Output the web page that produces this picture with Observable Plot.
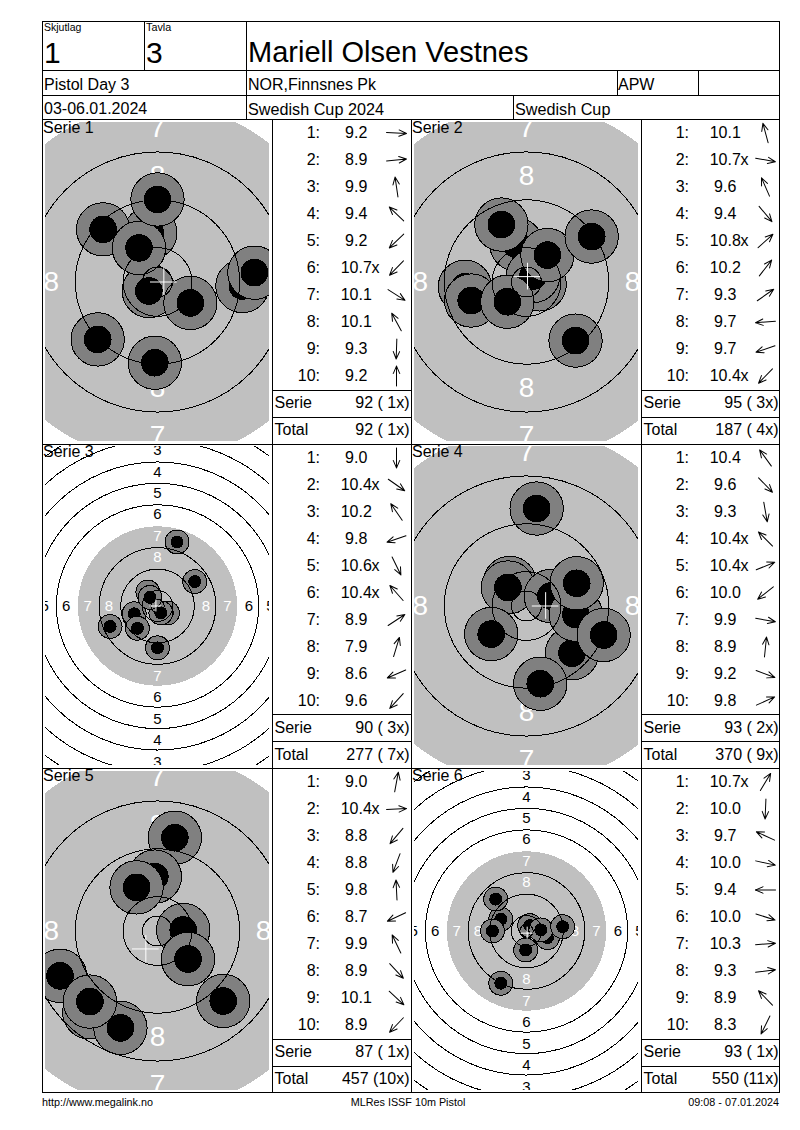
<!DOCTYPE html>
<html>
<head>
<meta charset="utf-8">
<script src="https://cdn.jsdelivr.net/npm/d3@7"></script>
<script src="https://cdn.jsdelivr.net/npm/@observablehq/plot@0.6"></script>
<style>
  html, body { margin: 0; padding: 0; background: #fff; }
  #page { position: relative; width: 800px; height: 1130px; overflow: hidden;
          font-family: "Liberation Sans", Arial, sans-serif; color: #000; }
  #page svg { position: absolute; background: transparent; }
  .t { position: absolute; white-space: pre; line-height: 1; }
  .l { position: absolute; background: #000; }
</style>
</head>
<body>
<div id="page"></div>
<script>
// ---------- Header text ----------
const shooter = "Mariell Olsen Vestnes";
const relay = "1";
const lane = "3";
const eventName = "Pistol Day 3";
const club = "NOR,Finnsnes Pk";
const classCode = "APW";
const dates = "03-06.01.2024";
const cupName = "Swedish Cup 2024";
const cupShort = "Swedish Cup";
const footerLeft = "http://www.megalink.no";
const footerMid = "MLRes ISSF 10m Pistol";
const footerRight = "09:08 - 07.01.2024";

// ---------- Target geometry, millimetres ----------
const ringRadii = [2.5, 5.75, 13.75, 21.75, 37.75, 45.75, 53.75, 61.75, 69.75, 77.75];
const blackRadius = 29.75;
const ringNumbers = [8, 7, 6, 5, 4, 3];
const ringNumberRadii = [17.75, 25.75, 33.75, 41.75, 49.75, 57.75];
const haloRadius = 4.46;
const pelletRadius = 2.23;
const crossArm = 2.23;

// ---------- Series (shot order; x right, y up, mm from target centre) ----------
const s1Score = ["9.2","8.9","9.9","9.4","9.2","10.7x","10.1","10.1","9.3","9.2"];
const s1X = [14.2, 16.2, -1.2, -9.1, -10, -1.45, 5.5, -3.1, -0.45, 0];
const s1Y = [-0.67, 1.56, 8.2, 8.8, -9.6, -1.5, -3.5, 5.7, -13.5, 13.8];
const s1Cross = [1.06, 0];
const s1Sums = ["92 ( 1x)", "92 ( 1x)"];

const s2Score = ["10.1","10.7x","9.6","9.4","10.8x","10.2","9.3","9.7","9.7","10.4x"];
const s2X = [-1.7, 2.2, -4.2, 8.2, 1.1, 3.5, 10.9, -10.3, -9.25, -3.2];
const s2Y = [6.3, -0.4, 9.6, -9.8, 1.0, 4.5, 7.6, -0.8, -3.1, -3.3];
const s2Cross = [0.17, 0.9];
const s2Sums = ["95 ( 3x)", "187 ( 4x)"];

const s3Score = ["9.0","10.4x","10.2","9.8","10.6x","10.4x","8.9","7.9","8.6","9.6"];
const s3X = [0, 3.7, -3.6, -8.7, 1.25, -2.8, 13.9, 7.3, -17.7, -7.5];
const s3Y = [-15.6, -2.6, 5.2, -2.9, -2.55, 3.2, 9.1, 23.9, -7.65, -8.3];
const s3Cross = [-0.6, 0];
const s3Sums = ["90 ( 3x)", "277 ( 7x)"];

const s4Score = ["10.4","9.6","9.3","10.4x","10.4x","10.0","9.9","8.9","9.2","9.8"];
const s4X = [-2.8, 7.6, 2.3, -3.1, 4.07, -5.9, 8.25, 1.7, 12.9, 8.4];
const s4Y = [3.85, -7.9, -13, 3.1, 1.67, -4.7, -1.45, 16.3, -4.85, 3.8];
const s4Cross = [3.2, 0];
const s4Sums = ["93 ( 2x)", "370 ( 9x)"];

const s5Score = ["9.0","10.4x","8.8","8.8","9.8","8.7","9.9","8.9","10.1","8.9"];
const s5X = [2.9, 4.3, -11.4, -6.2, -0.45, -16.3, -3.5, 11, 5.1, -11.3];
const s5Y = [15.6, 0.17, -13.6, -16.2, 9.1, -7.5, 7.3, -11.7, -4.7, -11.8];
const s5Cross = [-1.95, -3.0];
const s5Sums = ["87 ( 1x)", "457 (10x)"];

const s6Score = ["10.7x","10.0","9.7","10.0","9.4","10.0","10.3","9.3","8.9","8.3"];
const s6X = [1.2, -0.3, -9.6, 6.9, -12.7, 7.8, 5.35, 13.5, -11.5, -9.6];
const s6Y = [2.0, -7.1, 4.4, -1.5, 0, -2.5, 0.4, 1.6, 11.9, -19.5];
const s6Cross = [0.25, -0.8];
const s6Sums = ["93 ( 1x)", "550 (11x)"];

const rowLabels = ["1:","2:","3:","4:","5:","6:","7:","8:","9:","10:","Serie","Total"];

// ---------- Page furniture ----------
const page = document.getElementById("page");
function text(str, x, baseline, size, anchor) {
  const el = document.createElement("div");
  el.className = "t";
  el.textContent = str;
  el.style.fontSize = size + "px";
  el.style.top = (baseline - size * 0.8465) + "px";
  if (anchor === "end") el.style.right = (800 - x) + "px";
  else if (anchor === "middle") { el.style.left = x + "px"; el.style.transform = "translateX(-50%)"; }
  else el.style.left = x + "px";
  page.appendChild(el);
}
function hline(x1, x2, y) {
  const el = document.createElement("div");
  el.className = "l";
  el.style.cssText = `left:${x1}px;top:${y}px;width:${x2 - x1 + 1}px;height:1px`;
  page.appendChild(el);
}
function vline(x, y1, y2) {
  const el = document.createElement("div");
  el.className = "l";
  el.style.cssText = `left:${x}px;top:${y1}px;width:1px;height:${y2 - y1 + 1}px`;
  page.appendChild(el);
}

// ---------- One target drawn in millimetres through Plot scales ----------
const TW = 224, TH = 319;
function target(sx, sy, cross, pxPerMm, labelSize, labelPad, left, top) {
  const halfX = TW / 2 / pxPerMm, halfY = TH / 2 / pxPerMm;
  const shots = sx.map((x, i) => ({x, y: sy[i]}));
  const layers = shots.flatMap(s => [
    {...s, r: haloRadius, fill: "#808080"},
    {...s, r: pelletRadius, fill: "#000000"}
  ]);
  const reach = labelSize * 0.4 / pxPerMm;
  const labels = ringNumbers.flatMap((n, i) => {
    const r = ringNumberRadii[i] + labelPad;
    const c = n >= 7 ? "white" : "black";
    return [[0, r], [0, -r], [-r, 0], [r, 0]].map(([x, y]) => ({x, y, n, c}));
  }).filter(d => Math.abs(d.x) < halfX + reach && Math.abs(d.y) < halfY + reach);
  const svg = Plot.plot({
    width: TW, height: TH,
    marginTop: 0, marginRight: 0, marginBottom: 0, marginLeft: 0,
    x: {domain: [-halfX, halfX], axis: null},
    y: {domain: [-halfY, halfY], axis: null},
    r: {type: "linear", domain: [0, 100], range: [0, 100 * pxPerMm]},
    color: {type: "identity"},
    marks: [
      Plot.dot([blackRadius], {x: 0, y: 0, r: d => d, fill: "#c0c0c0", clip: "frame", shapeRendering: "crispEdges"}),
      Plot.text(labels, {x: "x", y: "y", text: "n", fill: "c", fontSize: labelSize, clip: "frame"}),
      Plot.dot(layers, {x: "x", y: "y", r: "r", fill: "fill", sort: null, stroke: "black", strokeWidth: 1, clip: "frame", shapeRendering: "crispEdges"}),
      Plot.dot(ringRadii, {x: 0, y: 0, r: d => d, stroke: "black", strokeWidth: 1, fill: "none", clip: "frame", shapeRendering: "crispEdges"}),
      Plot.ruleX([cross], {x: d => d[0], y1: d => d[1] - crossArm, y2: d => d[1] + crossArm, stroke: "white", strokeWidth: 1}),
      Plot.ruleY([cross], {y: d => d[1], x1: d => d[0] - crossArm, x2: d => d[0] + crossArm, stroke: "white", strokeWidth: 1})
    ],
    style: {background: "transparent", fontFamily: "'Liberation Sans', Arial, sans-serif"}
  });
  svg.style.left = left + "px";
  svg.style.top = top + "px";
  page.appendChild(svg);
}

// Open arrow with a fixed-size head, as printed in the score list
const arrowShape = {
  draw(context, l) {
    context.moveTo(0, 0);
    context.lineTo(0, -l);
    context.moveTo(-3.2, -l + 7.5);
    context.lineTo(0, -l);
    context.lineTo(3.2, -l + 7.5);
  }
};

// ---------- One score table drawn through Plot's band scale ----------
function table(scores, sx, sy, sums, left, top) {
  const rows = scores.map((s, i) => ({
    row: rowLabels[i],
    value: s.replace("x", ""),
    inner: s.endsWith("x") ? "x" : "",
    angle: Math.atan2(sx[i], sy[i]) * 180 / Math.PI
  }));
  const sumRows = sums.map((s, i) => ({row: rowLabels[10 + i], sum: s}));
  const font = {fontSize: 16, lineAnchor: "middle"};
  const svg = Plot.plot({
    width: 138, height: 325,
    marginTop: 0, marginRight: 0, marginBottom: 0, marginLeft: 0,
    x: {domain: [0, 138], axis: null},
    y: {type: "band", domain: rowLabels, padding: 0, axis: null},
    marks: [
      Plot.text(rows, {...font, x: 47.5, y: "row", text: "row", textAnchor: "end"}),
      Plot.text(rows, {...font, x: 83.7, y: "row", text: "value", textAnchor: "middle"}),
      Plot.text(rows, {...font, x: 99, y: "row", text: "inner", textAnchor: "start"}),
      Plot.vector(rows, {x: 124, y: "row", rotate: "angle", length: 20, anchor: "middle", shape: arrowShape, stroke: "black", strokeWidth: 1}),
      Plot.text(sumRows, {...font, x: 2, y: "row", text: "row", textAnchor: "start"}),
      Plot.text(sumRows, {...font, x: 137, y: "row", text: "sum", textAnchor: "end"})
    ],
    style: {background: "transparent", fontFamily: "'Liberation Sans', Arial, sans-serif", overflow: "visible"}
  });
  svg.style.left = left + "px";
  svg.style.top = top + "px";
  page.appendChild(svg);
}

// ---------- Assemble ----------
const BIG = 5.98, SMALL = 2.68;
const LBIG = 28, LSMALL = 15;
target(s1X, s1Y, s1Cross, BIG, LBIG, 0, 45, 122);
target(s2X, s2Y, s2Cross, BIG, LBIG, 0, 413.5, 122);
target(s3X, s3Y, s3Cross, SMALL, LSMALL, 0.35, 45, 446);
target(s4X, s4Y, s4Cross, BIG, LBIG, 0, 413.5, 446);
target(s5X, s5Y, s5Cross, BIG, LBIG, 0, 45, 771);
target(s6X, s6Y, s6Cross, SMALL, LSMALL, 0.35, 413.5, 771);

table(s1Score, s1X, s1Y, s1Sums, 272, 118.3);
table(s2Score, s2X, s2Y, s2Sums, 641, 118.3);
table(s3Score, s3X, s3Y, s3Sums, 272, 443.3);
table(s4Score, s4X, s4Y, s4Sums, 641, 443.3);
table(s5Score, s5X, s5Y, s5Sums, 272, 767.3);
table(s6Score, s6X, s6Y, s6Sums, 641, 767.3);

// grid lines
[21, 70, 95, 119, 444, 768, 1092].forEach(y => hline(42, 779, y));
vline(42, 21, 1092); vline(779, 21, 1092);
vline(144, 21, 70); vline(246, 21, 119);
vline(617, 70, 95); vline(698, 70, 95); vline(513, 95, 119);
[272, 411, 641].forEach(x => vline(x, 119, 1092));
[390, 417, 714, 741, 1039, 1066].forEach(y => { hline(272, 411, y); hline(641, 779, y); });

// header
text("Skjutlag", 44, 31, 10.5);
text("Tavla", 146, 31, 10.8);
text(relay, 44, 63, 30);
text(lane, 146, 63, 30);
text(shooter, 248, 62.5, 29);
text(eventName, 44, 91, 16);
text(club, 248, 91, 16);
text(classCode, 618, 91, 16);
text(dates, 44, 115, 16);
text(cupName, 248, 115, 16.2);
text(cupShort, 515, 115, 16.2);

// serie titles
[["Serie 1",43,133.5],["Serie 2",412,133.5],["Serie 3",43,458],["Serie 4",412,458],["Serie 5",43,782],["Serie 6",412,782]]
  .forEach(([s, x, y]) => text(s, x, y, 16));

// footer
text(footerLeft, 42, 1106, 10.8);
text(footerMid, 408, 1106, 10.8, "middle");
text(footerRight, 779, 1106, 10.8, "end");
</script>
</body>
</html>
